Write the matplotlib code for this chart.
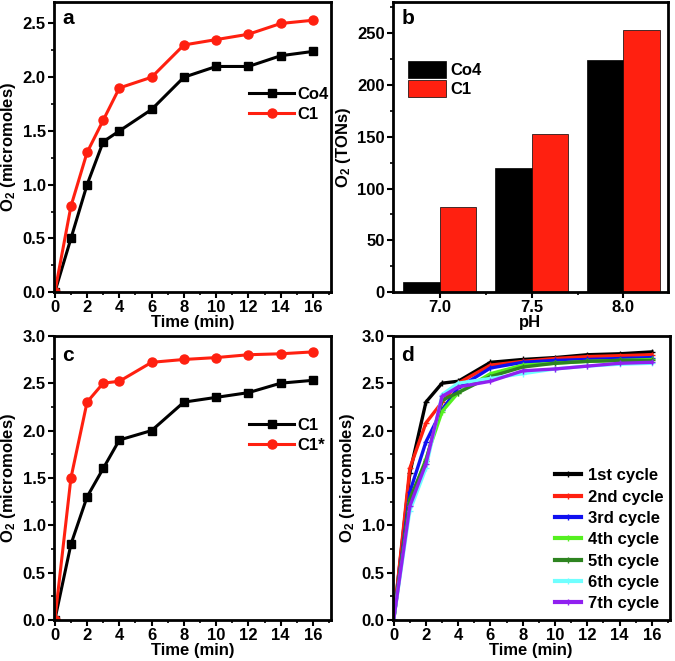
# -*- coding: utf-8 -*-

import matplotlib
matplotlib.use("Agg")
import matplotlib.pyplot as plt
import numpy as np
from matplotlib.ticker import MultipleLocator, AutoMinorLocator

plt.rcParams["font.family"] = ["Liberation Sans", "DejaVu Sans"]
plt.rcParams["font.weight"] = "bold"
plt.rcParams["axes.labelweight"] = "bold"
plt.rcParams["mathtext.fontset"] = "custom"
plt.rcParams["mathtext.rm"] = "Liberation Sans:bold"
plt.rcParams["mathtext.bf"] = "Liberation Sans:bold"
plt.rcParams["mathtext.default"] = "bf"

# time points (min)
time_min = [0, 1, 2, 3, 4, 6, 8, 10, 12, 14, 16]

# panel a
co4_o2 = [0, 0.5, 1.0, 1.4, 1.5, 1.7, 2.0, 2.1, 2.1, 2.2, 2.24]
c1_o2 = [0, 0.8, 1.3, 1.6, 1.9, 2.0, 2.3, 2.35, 2.4, 2.5, 2.53]

# panel b
ph_labels = ["7.0", "7.5", "8.0"]
co4_tons = [10, 120, 224]
c1_tons = [82, 153, 253]

# panel c
c1_star_o2 = [0, 1.5, 2.3, 2.5, 2.52, 2.72, 2.75, 2.77, 2.8, 2.81, 2.83]

# panel d, recycling
cycle_labels = ["1st cycle", "2nd cycle", "3rd cycle", "4th cycle",
                "5th cycle", "6th cycle", "7th cycle"]
cycle_colors = ["#000000", "#FF2010", "#1010F0", "#55F020",
                "#2E8420", "#70FFFF", "#9020F0"]
cycle_o2 = [
    [0, 1.55, 2.3, 2.5, 2.52, 2.72, 2.75, 2.77, 2.8, 2.81, 2.83],
    [0, 1.6, 2.08, 2.3, 2.5, 2.69, 2.73, 2.76, 2.78, 2.79, 2.8],
    [0, 1.35, 1.88, 2.22, 2.45, 2.66, 2.72, 2.74, 2.75, 2.76, 2.77],
    [0, 1.25, 1.7, 2.2, 2.4, 2.6, 2.69, 2.71, 2.73, 2.74, 2.75],
    [0, 1.28, 1.68, 2.32, 2.4, 2.57, 2.67, 2.71, 2.73, 2.74, 2.74],
    [0, 1.15, 1.6, 2.38, 2.5, 2.55, 2.6, 2.65, 2.68, 2.7, 2.71],
    [0, 1.2, 1.65, 2.36, 2.46, 2.52, 2.63, 2.65, 2.68, 2.71, 2.72],
]

RED = "#FF2010"
TICK_FS = 12
LABEL_FS = 12
LEG_FS = 12


def style_axes(ax):
    for sp in ax.spines.values():
        sp.set_linewidth(2.0)
    ax.tick_params(which="major", direction="out", length=4, width=1.5,
                   labelsize=TICK_FS, pad=2)
    ax.tick_params(which="minor", direction="out", length=2.5, width=1.2)
    for lab in ax.get_xticklabels() + ax.get_yticklabels():
        lab.set_fontweight("bold")


def time_axes(ax, ymax, yticks):
    ax.set_xlim(-0.05, 17.1)
    ax.set_ylim(0, ymax)
    ax.xaxis.set_major_locator(MultipleLocator(2))
    ax.xaxis.set_minor_locator(MultipleLocator(1))
    ax.set_yticks(yticks)
    ax.yaxis.set_minor_locator(AutoMinorLocator(2))
    ax.set_xlabel("Time (min)", fontsize=LABEL_FS, labelpad=0)
    ax.set_ylabel(r"O$_2$ (micromoles)", fontsize=LABEL_FS, labelpad=3)
    style_axes(ax)


fig = plt.figure(figsize=(6.75, 6.61), dpi=100)

ax_a = fig.add_axes([0.080, 0.558, 0.410, 0.439])
ax_b = fig.add_axes([0.582, 0.558, 0.407, 0.439])
ax_c = fig.add_axes([0.080, 0.062, 0.410, 0.430])
ax_d = fig.add_axes([0.582, 0.062, 0.410, 0.430])

# a
ax_a.plot(time_min, co4_o2, "-s", color="black", lw=2.2, ms=6, label="Co4")
ax_a.plot(time_min, c1_o2, "-o", color=RED, lw=2.2, ms=6.5, label="C1")
time_axes(ax_a, 2.7, [0, 0.5, 1.0, 1.5, 2.0, 2.5])
ax_a.legend(loc="upper left", bbox_to_anchor=(0.675, 0.737), frameon=False,
            borderpad=0, handlelength=2.7, handletextpad=0.2,
            labelspacing=0.3, prop={"weight": "bold", "size": LEG_FS})
ax_a.text(0.03, 0.975, "a", transform=ax_a.transAxes, fontsize=15,
          fontweight="bold", va="top")

# b
x = np.arange(len(ph_labels))
w = 0.4
ax_b.bar(x - w / 2, co4_tons, w, color="black", edgecolor="black",
         lw=0.5, label="Co4")
ax_b.bar(x + w / 2, c1_tons, w, color=RED, edgecolor="black",
         lw=0.5, label="C1")
ax_b.set_xlim(-0.51, 2.48)
ax_b.set_ylim(0, 280)
ax_b.set_xticks(x)
ax_b.set_xticklabels(ph_labels)
ax_b.set_xticks(x[:-1] + 0.5, minor=True)
ax_b.yaxis.set_major_locator(MultipleLocator(50))
ax_b.yaxis.set_minor_locator(MultipleLocator(25))
ax_b.set_xlabel("pH", fontsize=LABEL_FS, labelpad=0)
ax_b.set_ylabel(r"O$_2$ (TONs)", fontsize=LABEL_FS, labelpad=3)
style_axes(ax_b)
ax_b.legend(loc="upper left", bbox_to_anchor=(0.025, 0.825), frameon=False,
            borderpad=0, handlelength=2.28, handleheight=1.2,
            handletextpad=0.25, labelspacing=0.1,
            prop={"weight": "bold", "size": LEG_FS})
ax_b.text(0.03, 0.975, "b", transform=ax_b.transAxes, fontsize=15,
          fontweight="bold", va="top")

# c
ax_c.plot(time_min, c1_o2, "-s", color="black", lw=2.2, ms=6, label="C1")
ax_c.plot(time_min, c1_star_o2, "-o", color=RED, lw=2.2, ms=6.5, label="C1*")
time_axes(ax_c, 3.0, [0, 0.5, 1.0, 1.5, 2.0, 2.5, 3.0])
ax_c.legend(loc="upper left", bbox_to_anchor=(0.675, 0.74), frameon=False,
            borderpad=0, handlelength=2.7, handletextpad=0.2,
            labelspacing=0.27, prop={"weight": "bold", "size": LEG_FS})
ax_c.text(0.03, 0.965, "c", transform=ax_c.transAxes, fontsize=15,
          fontweight="bold", va="top")

# d
for vals, col, lab in zip(cycle_o2, cycle_colors, cycle_labels):
    ax_d.plot(time_min, vals, "-", marker="+", color=col, lw=2.4, ms=4,
              mew=1, label=lab)
time_axes(ax_d, 3.0, [0, 0.5, 1.0, 1.5, 2.0, 2.5, 3.0])
leg_d = ax_d.legend(loc="upper left", bbox_to_anchor=(0.555, 0.563),
                    frameon=False, borderpad=0, handlelength=1.6,
                    handletextpad=0.4, labelspacing=0.38,
                    prop={"weight": "bold", "size": LEG_FS})
for ln in leg_d.get_lines():
    ln.set_linewidth(3.0)
ax_d.text(0.03, 0.965, "d", transform=ax_d.transAxes, fontsize=15,
          fontweight="bold", va="top")

fig.savefig("out.png", dpi=100)
